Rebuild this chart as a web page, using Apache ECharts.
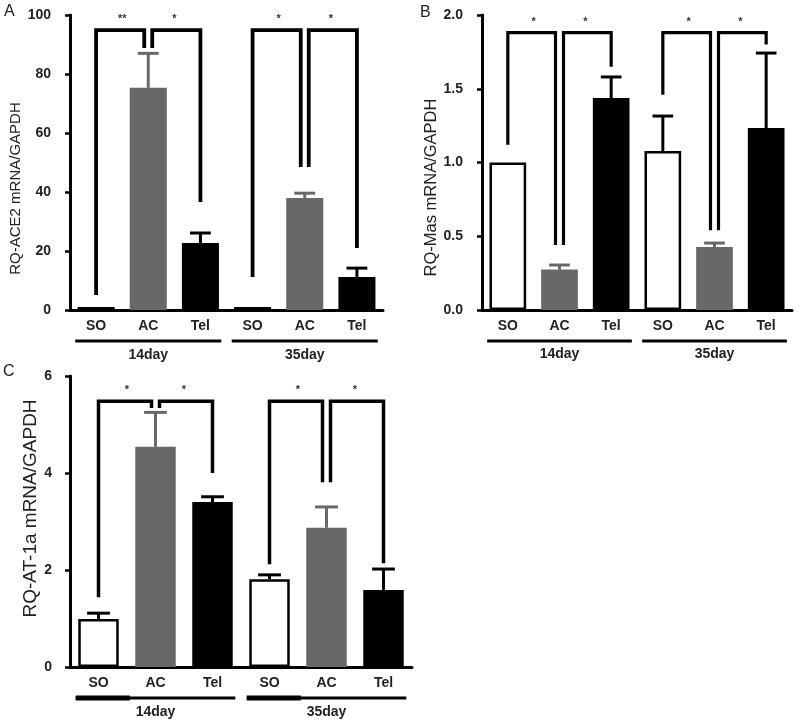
<!DOCTYPE html>
<html><head><meta charset="utf-8">
<script src="https://cdn.jsdelivr.net/npm/echarts@6/dist/echarts.min.js"></script>
<style>html,body{margin:0;padding:0;background:#fff}#c{width:800px;height:725px}</style>
</head><body><div id="c"></div>
<script>
// ---- data ----
const categories = ['SO', 'AC', 'Tel', 'SO', 'AC', 'Tel'];
const groupLabels = ['14day', '35day'];
const groupSpans = [[0, 2], [3, 5]];

const aValues = [1.0, 75.3, 22.7, 1.0, 38.0, 11.2];
const aErrors = [1.0, 87.0, 26.1, 1.0, 39.6, 14.2];
const aTicks = [0, 100, 20];
const aBrackets = [[0, 1, 5.1, 94.9, 88.8], [1, 2, 88.8, 94.9, 36.6], [3, 4, 11.2, 94.9, 48.5], [4, 5, 48.5, 94.9, 21.0]];
const aStars = ['**', '*', '*', '*'];

const bValues = [1.0, 0.275, 1.437, 1.078, 0.427, 1.234];
const bErrors = [1.0, 0.305, 1.58, 1.315, 0.454, 1.742];
const bTicks = [0, 2, 0.5];
const bBrackets = [[0, 1, 1.12, 1.88, 0.44], [1, 2, 0.44, 1.88, 1.65], [3, 4, 1.46, 1.88, 0.54], [4, 5, 0.54, 1.88, 1.80]];
const bStars = ['*', '*', '*', '*'];

const cValues = [0.99, 4.54, 3.40, 1.81, 2.87, 1.59];
const cErrors = [1.11, 5.25, 3.51, 1.90, 3.30, 2.02];
const cTicks = [0, 6, 2];
const cBrackets = [[0, 1, 1.44, 5.48, 5.34], [1, 2, 5.34, 5.48, 4.0], [3, 4, 2.12, 5.48, 3.81], [4, 5, 3.81, 5.48, 2.14]];
const cStars = ['*', '*', '*', '*'];

// ---- styling / layout ----
const FONT = "'Liberation Sans', Arial, sans-serif";
const GRAY = '#686868';
const panels = [
  {name: 'RQ-ACE2 mRNA/GAPDH', values: aValues, errors: aErrors, ticks: aTicks, brackets: aBrackets, stars: aStars,
   grid: {left: 70, top: 15, width: 313, height: 295}, nameGap: 45, nameSize: 15, nameShift: 26, fmt: v => String(v),
   lw: 3.8, catGap: 9, groupGap: 31, labelGap: 45, thick: false, tickMargin: 19},
  {name: 'RQ-Mas mRNA/GAPDH', values: bValues, errors: bErrors, ticks: bTicks, brackets: bBrackets, stars: bStars,
   grid: {left: 482, top: 15, width: 310, height: 295}, nameGap: 39, nameSize: 16.5, nameShift: 25, fmt: v => v.toFixed(1),
   lw: 3.2, catGap: 9, groupGap: 31, labelGap: 44, thick: false, tickMargin: 19},
  {name: 'RQ-AT-1a mRNA/GAPDH', values: cValues, errors: cErrors, ticks: cTicks, brackets: cBrackets, stars: cStars,
   grid: {left: 70, top: 376, width: 342, height: 291}, nameGap: 27, nameSize: 19, nameShift: -13, fmt: v => String(v),
   lw: 3.5, catGap: 9, groupGap: 31, labelGap: 45, thick: true, tickMargin: 18}
];

function barStyle(i) {
  const k = i % 3;
  if (k === 0) return {color: '#ffffff', borderColor: '#000', borderWidth: 2.5};
  if (k === 1) return {color: GRAY};
  return {color: '#000000'};
}

const option = {animation: false, grid: [], xAxis: [], yAxis: [], series: [], graphic: []};

panels.forEach((p, idx) => {
  option.grid.push(Object.assign({containLabel: false}, p.grid));
  option.xAxis.push({
    type: 'category', gridIndex: idx, data: categories,
    axisLine: {lineStyle: {color: '#000', width: 3}},
    axisTick: {show: false},
    axisLabel: {margin: p.catGap, color: '#222', fontFamily: FONT, fontWeight: 'bold', fontSize: 14}
  });
  const pad = p.nameShift >= 0 ? [0, 2 * p.nameShift, 0, 0] : [0, 0, 0, -2 * p.nameShift];
  option.yAxis.push({
    type: 'value', gridIndex: idx, min: p.ticks[0], max: p.ticks[1], interval: p.ticks[2],
    name: p.name, nameLocation: 'middle', nameGap: p.nameGap,
    nameTextStyle: {fontFamily: FONT, fontSize: p.nameSize, color: '#222', padding: pad},
    axisLine: {show: true, lineStyle: {color: '#000', width: 3}},
    axisTick: {show: true, length: 5, lineStyle: {color: '#000', width: 2.5}},
    splitLine: {show: false},
    axisLabel: {margin: p.tickMargin, color: '#222', fontFamily: FONT, fontWeight: 'bold', fontSize: 14, formatter: p.fmt}
  });
  option.series.push({
    type: 'bar', xAxisIndex: idx, yAxisIndex: idx, barWidth: '71%', z: 2,
    data: p.values.map((v, i) => ({value: v, itemStyle: barStyle(i)}))
  });
  // error bars
  option.series.push({
    type: 'custom', xAxisIndex: idx, yAxisIndex: idx, z: 3,
    data: p.errors.map((e, i) => [i, p.values[i], e]),
    encode: {x: 0, y: [1, 2]},
    renderItem: (params, api) => {
      const i = api.value(0), v = api.value(1), e = api.value(2);
      if (e <= v + 1e-9) return null;
      const a = api.coord([i, v]), b = api.coord([i, e]);
      const hw = api.size([1, 0])[0] * 0.2;
      const col = (i % 3 === 1) ? GRAY : '#000';
      return {type: 'group', children: [
        {type: 'line', shape: {x1: a[0], y1: a[1], x2: b[0], y2: b[1]}, style: {stroke: col, lineWidth: 3}},
        {type: 'line', shape: {x1: b[0] - hw, y1: b[1], x2: b[0] + hw, y2: b[1]}, style: {stroke: col, lineWidth: 3}}
      ]};
    }
  });
  // significance brackets
  option.series.push({
    type: 'custom', xAxisIndex: idx, yAxisIndex: idx, z: 4,
    data: p.brackets.map((b, k) => b.concat([k])),
    encode: {x: [0, 1], y: [2, 3, 4]},
    renderItem: (params, api) => {
      const l = api.value(0), r = api.value(1);
      const k = api.value(5);
      const dl = (l % 3 === 1) ? 4 : 0, dr = (r % 3 === 1) ? -4 : 0;
      const p1 = api.coord([l, api.value(2)]), p2 = api.coord([l, api.value(3)]);
      const p3 = api.coord([r, api.value(3)]), p4 = api.coord([r, api.value(4)]);
      return {type: 'group', children: [
        {type: 'polyline', shape: {points: [[p1[0] + dl, p1[1]], [p2[0] + dl, p2[1]], [p3[0] + dr, p3[1]], [p4[0] + dr, p4[1]]]},
         style: {stroke: '#000', lineWidth: p.lw, fill: null, lineJoin: 'miter'}},
        {type: 'text', style: {text: p.stars[k], x: (p2[0] + p3[0]) / 2, y: p2[1] - 11, align: 'center', verticalAlign: 'middle',
          font: 'bold 11px ' + FONT, fill: '#333'}}
      ]};
    }
  });
  // group underline + labels
  option.series.push({
    type: 'custom', xAxisIndex: idx, yAxisIndex: idx, z: 4,
    data: groupSpans.map((s, k) => [s[0], s[1], k]),
    encode: {x: [0, 1]},
    renderItem: (params, api) => {
      const s = api.value(0), e = api.value(1), k = api.value(2);
      const band = api.size([1, 0])[0];
      const a = api.coord([s, 0]), b = api.coord([e, 0]);
      const x1 = a[0] - band * 0.4, x2 = b[0] + band * 0.4;
      const y = a[1] + p.groupGap;
      const ch = [
        {type: 'line', shape: {x1: x1, y1: y, x2: x2, y2: y}, style: {stroke: '#000', lineWidth: 3}},
        {type: 'text', style: {text: groupLabels[k], x: (x1 + x2) / 2, y: a[1] + p.labelGap, align: 'center', verticalAlign: 'middle',
          font: 'bold 14px ' + FONT, fill: '#222'}}
      ];
      if (p.thick) ch.push({type: 'line', shape: {x1: x1, y1: y, x2: a[0] + band * 0.55, y2: y}, style: {stroke: '#000', lineWidth: 5}});
      return {type: 'group', children: ch};
    }
  });
});

option.graphic = [
  {type: 'text', left: 4, top: 4, style: {text: 'A', font: '16px ' + FONT, fill: '#222'}},
  {type: 'text', left: 420, top: 5, style: {text: 'B', font: '16px ' + FONT, fill: '#222'}},
  {type: 'text', left: 3, top: 364, style: {text: 'C', font: '16px ' + FONT, fill: '#222'}}
];

const chart = echarts.init(document.getElementById('c'), null, {renderer: 'canvas'});
chart.setOption(option);
</script>
</body></html>
